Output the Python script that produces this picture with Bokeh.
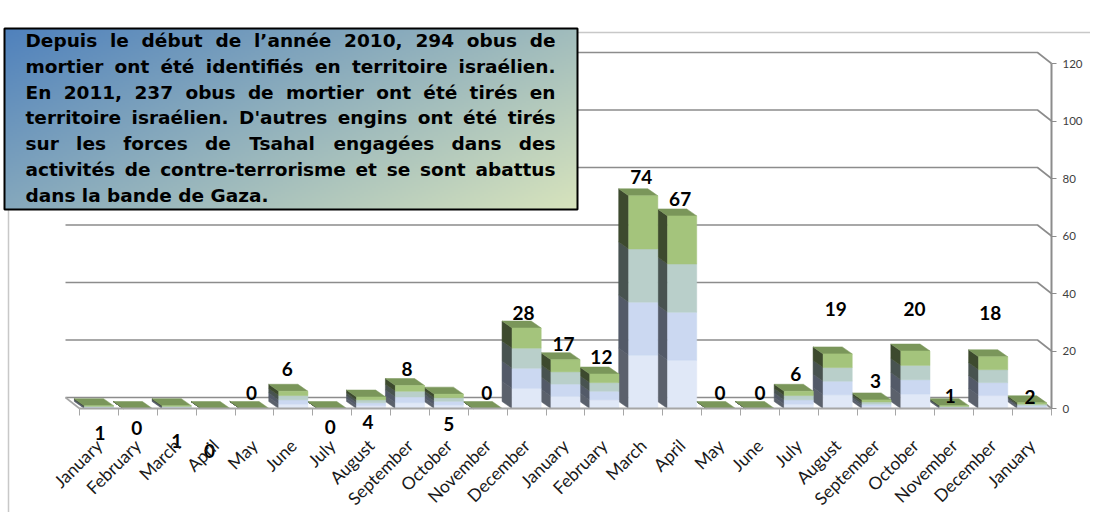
import math
import numpy as np
from bokeh.plotting import figure
from bokeh.models import Range1d, FixedTicker
from bokeh.core.properties import value
from bokeh.embed import file_html
from bokeh.resources import INLINE

# ---------------- data ----------------
months = ["January", "February", "March", "April", "May", "June", "July",
          "August", "September", "October", "November", "December",
          "January", "February", "March", "April", "May", "June", "July",
          "August", "September", "October", "November", "December", "January"]
counts = [1, 0, 1, 0, 0, 6, 0, 4, 8, 5, 0, 28,
          17, 12, 74, 67, 0, 0, 6, 19, 3, 20, 1, 18, 2]
y_ticks = [0, 20, 40, 60, 80, 100, 120]
note_lines = [
    "Depuis le début de l’année 2010, 294 obus de",
    "mortier ont été identifiés en territoire israélien.",
    "En 2011, 237 obus de mortier ont été tirés en",
    "territoire israélien. D'autres engins ont été tirés",
    "sur les forces de Tsahal engagées dans des",
    "activités de contre-terrorisme et se sont abattus",
    "dans la bande de Gaza.",
]

# ---------------- label nudges (pixels) ----------------
label_dx = [1, -1, 0, -6, -3, -6, -2, -3, -3, 0, -1, -3,
            -2, -3, -2, -2, -1, 0, -3, -2, -1, -1, -4, -3, -2]
label_dy = [-27, -19, -35, -42, 16, 22, -18, -25, 17, -30, 16, 15.5,
            16, 17.5, 19, 17, 16, 16, 17, 45, 19, 42.5, 10, 44, 6]

# ---------------- geometry (pixels) ----------------
FIG_W, FIG_H = 1090, 512
CAT0 = 79.0
CW = 38.88
Y0 = 408.0
PY = 2.875


def dx(X):
    return (X - CAT0) / CW


def dy(Y):
    return (Y0 - Y) / PY


p = figure(frame_width=FIG_W, frame_height=FIG_H,
           x_range=Range1d(dx(0), dx(FIG_W)),
           y_range=Range1d(dy(FIG_H), dy(0)),
           min_border_left=0, min_border_top=0, min_border_right=0,
           min_border_bottom=0, y_axis_location="right",
           output_backend="svg", toolbar_location=None)
p.xgrid.visible = False
p.ygrid.visible = False
p.outline_line_color = None
p.background_fill_color = "white"
p.border_fill_color = "white"

GRID = "#8c8c8c"
WDX, WDY = -14.0, 11.0   # wall depth offset (px: left, up)

# chart-area border
p.line(x=[dx(577), dx(FIG_W)], y=[dy(32), dy(32)], line_color="#c8c8c8", line_width=1.5)
p.line(x=[dx(8), dx(8)], y=[dy(209), dy(FIG_H)], line_color="#c8c8c8", line_width=1.5)

# back-wall gridlines with slant to the front axis
gx, gy = [], []
for v in y_ticks:
    yf = Y0 - v * PY
    gx.append([dx(CAT0 + WDX), dx(CAT0 + 25 * CW + WDX), 25.0])
    gy.append([dy(yf - WDY), dy(yf - WDY), v])
p.multi_line(xs=gx, ys=gy, line_color=GRID, line_width=1.6)
# floor left edge
p.line(x=[dx(CAT0 + WDX), 0], y=[dy(Y0 - WDY), 0], line_color="#a6a6a6", line_width=1.6)

# ---------------- 3D bars ----------------
half = 0.375
bdx = -10.0 / CW
bdy = 7.0 / PY
front_cols = ["#e0e8f7", "#cbd8f1", "#b9cfca", "#a4c47c"]
side_cols = ["#5b616c", "#535a68", "#485350", "#3d4a2e"]
top_col = "#7a965a"

side_x, side_y, side_c = [], [], []
top_x, top_y = [], []
fl, fr, fb, ft, fc = [], [], [], [], []
for i, v in enumerate(counts):
    cx = i + 0.5
    xl, xr = cx - half, cx + half
    for k in range(4):
        b, t = v * k / 4.0, v * (k + 1) / 4.0
        side_x.append([xl, xl, xl + bdx, xl + bdx])
        side_y.append([b, t, t + bdy, b + bdy])
        side_c.append(side_cols[k])
        fl.append(xl); fr.append(xr); fb.append(b); ft.append(t); fc.append(front_cols[k])
    top_x.append([xl, xr, xr + bdx, xl + bdx])
    top_y.append([v, v, v + bdy, v + bdy])

p.patches(xs=side_x, ys=side_y, fill_color=side_c, line_color=side_c, line_width=0.5)
p.patches(xs=top_x, ys=top_y, fill_color=top_col, line_color=top_col, line_width=0.5)
p.quad(left=fl, right=fr, bottom=fb, top=ft, fill_color=fc, line_color=fc, line_width=0.5)

# ---------------- axes (fixed at the front plane) ----------------
xax = p.xaxis[0]
xax.fixed_location = 0
xax.ticker = FixedTicker(ticks=[i + 0.5 for i in range(25)],
                         minor_ticks=[float(i) for i in range(26)])
xax.major_label_overrides = {i + 0.5: m for i, m in enumerate(months)}
xax.major_label_orientation = math.pi / 4
xax.major_label_text_font = "Lato"
xax.major_label_text_font_size = "17.5px"
xax.major_label_text_color = "#1a1a1a"
xax.major_label_standoff = 27
xax.major_tick_out = 0
xax.major_tick_in = 0
xax.minor_tick_out = 7
xax.minor_tick_in = 0
xax.minor_tick_line_color = "#a6a6a6"
xax.axis_line_color = "#a6a6a6"
xax.axis_line_width = 2
xax.bounds = (0, 25)

yax = p.yaxis[0]
yax.fixed_location = 25
yax.ticker = FixedTicker(ticks=y_ticks)
yax.bounds = (0, 120)
yax.axis_line_color = GRID
yax.axis_line_width = 2
yax.major_tick_out = 5
yax.major_tick_in = 0
yax.major_tick_line_color = GRID
yax.minor_tick_line_color = None
yax.major_label_text_font = "Lato"
yax.major_label_text_font_size = "11.5px"
yax.major_label_text_color = "#404040"
yax.major_label_standoff = 6

# value labels
lx = [i + 0.5 + label_dx[i] / CW for i in range(len(counts))]
ly = [counts[i] + label_dy[i] / PY for i in range(len(counts))]
p.text(x=lx, y=ly, text=[str(c) for c in counts], text_font=value("Lato"),
       text_font_style="bold", text_font_size="19px", text_color="black",
       text_align="center", text_baseline="middle")

# ---------------- note box with gradient ----------------
BX0, BX1, BY0, BY1 = 4.0, 577.0, 28.0, 209.0
bw, bh = BX1 - BX0, BY1 - BY0
cols, rows = int(bw // 2), int(bh // 2)
img = np.empty((rows, cols), dtype=np.uint32)
view = img.view(dtype=np.uint8).reshape((rows, cols, 4))
c0 = np.array([79, 129, 189], dtype=float)
c1 = np.array([216, 228, 188], dtype=float)
for r in range(rows):
    py_top = 1.0 - (r + 0.5) / rows
    for c in range(cols):
        t = 0.6 * (c + 0.5) / cols + 0.4 * py_top
        col = c0 + (c1 - c0) * t
        view[r, c, 0:3] = col.astype(np.uint8)
        view[r, c, 3] = 255
p.image_rgba(image=[img], x=dx(BX0), y=dy(BY1), dw=dx(BX1) - dx(BX0), dh=dy(BY0) - dy(BY1))
p.quad(left=dx(BX0), right=dx(BX1), bottom=dy(BY1), top=dy(BY0),
       fill_color=None, line_color="black", line_width=2)

# justified text, DejaVu Sans Bold advance widths (units / 2048)
ADV = {" ": 713, "a": 1382, "b": 1466, "c": 1210, "d": 1466, "e": 1389, "f": 891,
       "g": 1466, "h": 1458, "i": 702, "j": 702, "k": 1362, "l": 702, "m": 2134,
       "n": 1458, "o": 1407, "p": 1466, "q": 1466, "r": 1010, "s": 1219, "t": 979,
       "u": 1458, "v": 1335, "w": 1892, "x": 1321, "y": 1335, "z": 1192, "é": 1389,
       "D": 1700, "E": 1399, "G": 1685, "T": 1403, ",": 778, ".": 778, "-": 850,
       "'": 612, "’": 778}
FS = 18.5
for ch in "0123456789":
    ADV[ch] = 1425


def tw(s):
    return sum(ADV.get(ch, 1300) for ch in s) / 2048.0 * FS


TXL, TXR = 25.0, 555.0
BASE0, LSTEP = 40.0, 25.8
wl_x, wl_y, wl_t = [], [], []
wc_x, wc_y, wc_t = [], [], []
wr_x, wr_y, wr_t = [], [], []
for li, line in enumerate(note_lines):
    base = BASE0 + li * LSTEP
    words = line.split(" ")
    if li == len(note_lines) - 1:
        wl_x.append(dx(TXL)); wl_y.append(dy(base)); wl_t.append(line)
        continue
    widths = [tw(w) for w in words]
    gap = (TXR - TXL - sum(widths)) / (len(words) - 1)
    xpos = TXL
    for wi, (w, ww) in enumerate(zip(words, widths)):
        if wi == 0:
            wl_x.append(dx(TXL)); wl_y.append(dy(base)); wl_t.append(w)
        elif wi == len(words) - 1:
            wr_x.append(dx(TXR)); wr_y.append(dy(base)); wr_t.append(w)
        else:
            wc_x.append(dx(xpos + ww / 2)); wc_y.append(dy(base)); wc_t.append(w)
        xpos += ww + gap

for xs_, ys_, ts_, al in [(wl_x, wl_y, wl_t, "left"), (wc_x, wc_y, wc_t, "center"),
                          (wr_x, wr_y, wr_t, "right")]:
    p.text(x=xs_, y=ys_, text=ts_, text_font=value("DejaVu Sans"), text_font_style="bold",
           text_font_size=f"{FS}px", text_color="black", text_align=al,
           text_baseline="alphabetic")

open("out.html", "w").write(file_html(p, INLINE))
